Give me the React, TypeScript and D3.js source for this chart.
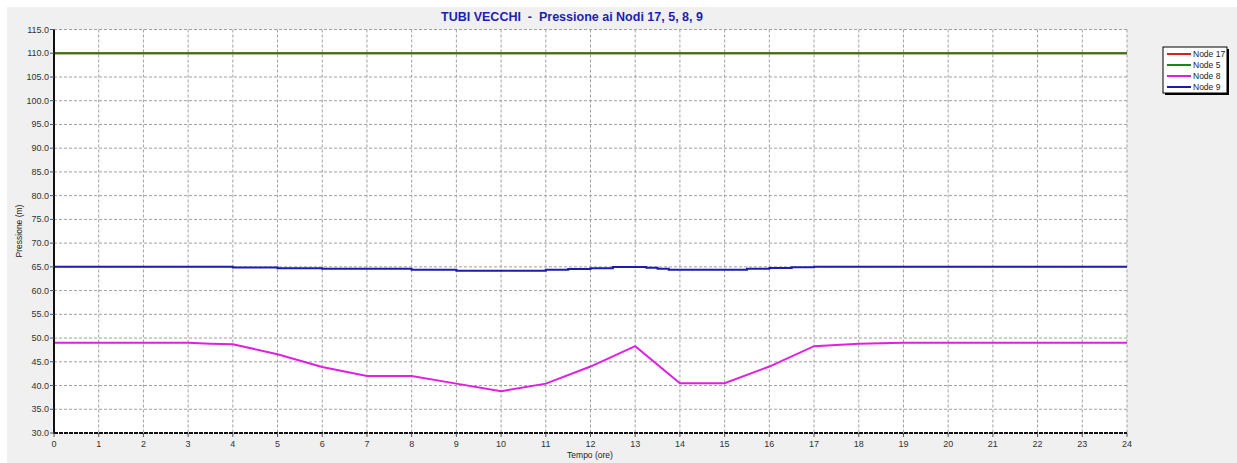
import React from "react";
import * as d3 from "d3";

const titleText = "TUBI VECCHI  -  Pressione ai Nodi 17, 5, 8, 9";
const xTicks = d3.range(0, 25);
const yTicks = d3.range(30, 115.01, 5);

const seriesNames = ["Node 17", "Node 5", "Node 8", "Node 9"];
const seriesColors = ["#e01e1e", "#138a13", "#e020e0", "#1c1cae"];

const node17Times = [0, 24];
const node17Values = [110.0, 110.0];

const node5Times = [0, 24];
const node5Values = [110.0, 110.0];

const node8Times = [0, 1, 2, 3, 3.5, 4, 5, 6, 7, 8, 9, 10, 11, 12, 13, 14, 15, 16, 17, 18, 19, 20, 21, 22, 23, 24];
const node8Values = [49.0, 49.0, 49.0, 49.0, 48.8, 48.7, 46.6, 43.9, 42.0, 42.0, 40.4, 38.8, 40.4, 44.0, 48.3, 40.5, 40.5, 44.0, 48.3, 48.8, 49.0, 49.0, 49.0, 49.0, 49.0, 49.0];

// Node 9 is stepwise (value holds until the next time)
const node9Times = [0, 4, 5, 6, 8, 9, 11, 11.5, 12, 12.5, 13.25, 13.5, 13.75, 15.5, 16, 16.5, 17, 24];
const node9Values = [65.0, 64.85, 64.7, 64.6, 64.4, 64.2, 64.4, 64.55, 64.7, 64.95, 64.8, 64.6, 64.4, 64.6, 64.75, 64.9, 65.0, 65.0];

const FONT = "'Liberation Sans', Arial, sans-serif";

export default function App() {
  const W = 1237, H = 463;
  const left = 54, right = 1127, top = 29.5, bottom = 433;
  const x = d3.scaleLinear().domain([0, 24]).range([left, right]);
  const y = d3.scaleLinear().domain([30, 115]).range([bottom, top]);

  const mk = (ts: number[], vs: number[]) => ts.map((t, i) => [t, vs[i]] as [number, number]);
  const line = d3.line<[number, number]>().x(d => x(d[0])).y(d => y(d[1]));
  const stepLine = d3.line<[number, number]>().x(d => x(d[0])).y(d => y(d[1])).curve(d3.curveStepAfter);

  const paths = [
    { d: line(mk(node17Times, node17Values)), c: seriesColors[0] },
    { d: line(mk(node5Times, node5Values)), c: seriesColors[1] },
    { d: line(mk(node8Times, node8Values)), c: seriesColors[2] },
    { d: stepLine(mk(node9Times, node9Values)), c: seriesColors[3] },
  ];

  const lgX = 1163, lgY = 47, lgW = 64, lgH = 46;

  return (
    <div style={{ position: "absolute", left: 0, top: 0 }}>
      <svg width={W} height={H} style={{ display: "block", fontFamily: FONT }}>
        <rect x={0} y={0} width={W} height={H} fill="#ffffff" />
        <rect x={7} y={7} width={W - 7} height={H - 7} fill="#f0f0f0" />
        <text x={572} y={21} textAnchor="middle" fontSize={12.5} fontWeight="bold" fill="#1e1eb4" style={{ whiteSpace: "pre" }}>{titleText}</text>
        <rect x={left} y={top} width={right - left} height={bottom - top} fill="#ffffff" />
        {/* grid */}
        {yTicks.map(v => (
          <line key={"gy" + v} x1={left} x2={right} y1={y(v)} y2={y(v)} stroke="#a0a0a0" strokeWidth={1} strokeDasharray="3,2" />
        ))}
        {xTicks.map(v => (
          <line key={"gx" + v} x1={x(v)} x2={x(v)} y1={top} y2={bottom} stroke="#a0a0a0" strokeWidth={1} strokeDasharray="3,2" />
        ))}
        {/* series */}
        {paths.map((p, i) => (
          <path key={i} d={p.d || ""} fill="none" stroke={p.c} strokeWidth={2} />
        ))}
        {/* axes */}
        <line x1={left} x2={left} y1={top} y2={bottom + 1} stroke="#111" strokeWidth={2} />
        <line x1={left} x2={right} y1={bottom} y2={bottom} stroke="#111" strokeWidth={2} strokeDasharray="4,1" />
        {yTicks.map(v => (
          <g key={"yt" + v}>
            <line x1={left - 4} x2={left} y1={y(v)} y2={y(v)} stroke="#555" />
            <text x={left - 5} y={y(v) + 3} textAnchor="end" fontSize={9} fill="#333">{v.toFixed(1)}</text>
          </g>
        ))}
        {xTicks.map(v => (
          <g key={"xt" + v}>
            <line x1={x(v)} x2={x(v)} y1={bottom} y2={bottom + 4} stroke="#555" />
            <text x={x(v)} y={447} textAnchor="middle" fontSize={9} fill="#333">{v}</text>
          </g>
        ))}
        <text x={590} y={458} textAnchor="middle" fontSize={8.5} fill="#222">Tempo (ore)</text>
        <text transform={`translate(22,231) rotate(-90)`} textAnchor="middle" fontSize={8.5} fill="#222">Pressione (m)</text>
        {/* legend */}
        <rect x={lgX + 2} y={lgY + 2} width={lgW} height={lgH} fill="#000" />
        <rect x={lgX} y={lgY} width={lgW} height={lgH} fill="#fff" stroke="#000" strokeWidth={1} />
        {seriesNames.map((n, i) => (
          <g key={n}>
            <line x1={lgX + 4} x2={lgX + 28} y1={lgY + 7 + i * 11} y2={lgY + 7 + i * 11} stroke={seriesColors[i]} strokeWidth={2} />
            <text x={lgX + 30} y={lgY + 10 + i * 11} fontSize={8.5} fill="#222">{n}</text>
          </g>
        ))}
      </svg>
    </div>
  );
}
